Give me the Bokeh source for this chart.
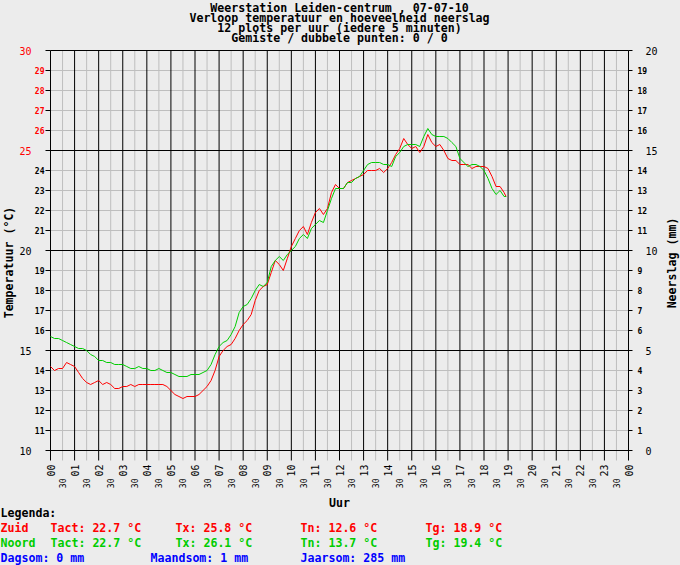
import math
from bokeh.plotting import figure
from bokeh.models import Range1d, ColumnDataSource, GlobalInlineStyleSheet
from bokeh.core.properties import value
from bokeh.embed import file_html
from bokeh.resources import INLINE

# ---------------- data ----------------
title_lines = [
    "Weerstation Leiden-centrum , 07-07-10",
    "Verloop temperatuur en hoeveelheid neerslag",
    "12 plots per uur (iedere 5 minuten)",
    "Gemiste / dubbele punten: 0 / 0",
]

# sample times (hours), every 10 minutes from 00:00, last sample 18:55
times_h = [k * 10 / 60 for k in range(114)] + [18 + 55 / 60]

zuid = [
    14.2, 14.0, 14.1, 14.1, 14.4, 14.3, 14.2, 13.9, 13.6, 13.4,
    13.3, 13.4, 13.5, 13.3, 13.4, 13.3, 13.1, 13.1, 13.2, 13.2,
    13.3, 13.2, 13.3, 13.3, 13.3, 13.3, 13.3, 13.3, 13.3, 13.2,
    13.0, 12.8, 12.7, 12.6, 12.7, 12.7, 12.7, 12.8, 13.0, 13.2,
    13.5, 14.0, 14.7, 15.0, 15.2, 15.3, 15.6, 16.0, 16.3, 16.5,
    16.8, 17.5, 18.0, 18.2, 18.3, 18.9, 19.5, 19.3, 19.0, 19.6,
    20.2, 20.6, 21.0, 21.2, 20.8, 21.4, 21.9, 22.1, 21.8, 22.1,
    22.9, 23.3, 23.1, 23.1, 23.4, 23.5, 23.6, 23.7, 23.8, 24.0,
    24.0, 24.0, 24.1, 23.9, 24.1, 24.4, 24.8, 25.1, 25.6, 25.3,
    25.1, 25.2, 24.9, 25.2, 25.8, 25.4, 25.2, 25.3, 25.0, 24.6,
    24.5, 24.5, 24.3, 24.3, 24.3, 24.1, 24.2, 24.2, 24.2, 24.1,
    23.7, 23.2, 23.2, 22.9, 22.7,
]

noord = [
    15.7, 15.6, 15.6, 15.5, 15.4, 15.3, 15.2, 15.1, 15.1, 15.0,
    14.8, 14.7, 14.5, 14.5, 14.4, 14.4, 14.3, 14.3, 14.3, 14.2,
    14.1, 14.1, 14.2, 14.1, 14.1, 14.0, 14.0, 14.1, 14.0, 13.9,
    13.9, 13.8, 13.7, 13.7, 13.7, 13.8, 13.8, 13.8, 13.9, 14.0,
    14.3, 14.8, 15.2, 15.4, 15.5, 15.8, 16.2, 16.9, 17.2, 17.3,
    17.6, 18.0, 18.3, 18.2, 18.4, 19.2, 19.5, 19.7, 19.5, 19.8,
    20.0, 20.2, 20.6, 20.8, 20.6, 21.1, 21.3, 21.5, 21.4, 22.0,
    22.6, 23.1, 23.1, 23.1, 23.4, 23.4, 23.6, 23.7, 24.0, 24.3,
    24.4, 24.4, 24.4, 24.3, 24.3, 24.2, 24.7, 24.9, 25.2, 25.3,
    25.3, 25.3, 25.2, 25.7, 26.1, 25.8, 25.7, 25.7, 25.7, 25.6,
    25.4, 25.2, 24.6, 24.4, 24.2, 24.3, 24.3, 24.2, 24.0, 23.6,
    23.1, 22.8, 23.0, 22.7, 22.7,
]

temp_ticks = list(range(10, 31))
temp_major = [10, 15, 20, 25, 30]
temp_red_from = 25
rain_ticks = list(range(0, 21))
rain_major = [0, 5, 10, 15, 20]
hour_ticks = list(range(0, 25))
hour_labels = ["%02d" % (h % 24) for h in hour_ticks]
half_ticks = [h + 0.5 for h in range(24)]
half_labels = ["30"] * 24

x_title = "Uur"
y_title_left = "Temperatuur (°C)"
y_title_right = "Neerslag (mm)"

legend_head = "Legenda:"
row_names = ["Zuid", "Noord"]
row_tact = ["Tact: 22.7 °C", "Tact: 22.7 °C"]
row_tx = ["Tx: 25.8 °C", "Tx: 26.1 °C"]
row_tn = ["Tn: 12.6 °C", "Tn: 13.7 °C"]
row_tg = ["Tg: 18.9 °C", "Tg: 19.4 °C"]
rain_texts = ["Dagsom: 0 mm", "Maandsom: 1 mm", "Jaarsom: 285 mm"]

# ---------------- layout / style ----------------
W, H = 680, 565
X0, Y0 = 50, 450            # pixel position of (00:00, 10 °C)
PPH = 578 / 24              # pixels per hour
PPD = 400 / 20              # pixels per degree
BG = "#ECECEC"
GRID = "#BEBEBE"
RED = "#FF0000"
GREEN = "#00CC00"
BLUE = "#0000FF"
FONT = value("DejaVu Sans Mono")
BIG = "11.6px"


def px_x(px):
    return (px - X0) / PPH


def px_y(py):
    return 10 + (Y0 - py) / PPD


css = GlobalInlineStyleSheet(css="html, body {margin:0 !important; padding:0 !important; background:#ECECEC; overflow:hidden;}")

p = figure(width=W, height=H,
           x_range=Range1d(px_x(0), px_x(W)), y_range=Range1d(px_y(H), px_y(0)),
           x_axis_location=None, y_axis_location=None,
           output_backend="svg", toolbar_location=None,
           min_border=0, min_border_left=0, min_border_right=0,
           min_border_top=0, min_border_bottom=0,
           background_fill_color=BG, border_fill_color=BG,
           outline_line_color=None, stylesheets=[css])
p.extra_y_ranges = {"rain": Range1d(px_y(H) - 10, px_y(0) - 10)}
p.grid.visible = False

y_low = px_y(Y0 + 10)       # ticks below the hour axis
x_left_tick = px_x(X0 - 5)
x_right_tick = 24 + 4 / PPH

# minor grid (grey)
p.segment(x0=half_ticks, y0=[y_low] * len(half_ticks), x1=half_ticks, y1=[30] * len(half_ticks),
          line_color=GRID, line_width=1)
p.segment(x0=[0] * len(temp_ticks), y0=temp_ticks, x1=[24] * len(temp_ticks), y1=temp_ticks,
          line_color=GRID, line_width=1)
# ticks outside left / right
p.segment(x0=[x_left_tick] * len(temp_ticks), y0=temp_ticks, x1=[0] * len(temp_ticks),
          y1=temp_ticks, line_color="black", line_width=1)
p.segment(x0=[24] * len(rain_ticks), y0=rain_ticks, x1=[x_right_tick] * len(rain_ticks),
          y1=rain_ticks, line_color="black", line_width=1, y_range_name="rain")
# major grid (black)
p.segment(x0=[0] * len(temp_major), y0=temp_major, x1=[24] * len(temp_major), y1=temp_major,
          line_color="black", line_width=1)
p.segment(x0=hour_ticks, y0=[y_low] * len(hour_ticks), x1=hour_ticks, y1=[30] * len(hour_ticks),
          line_color="black", line_width=1)

# data lines
p.line(times_h, zuid, line_color=RED, line_width=1)
p.line(times_h, noord, line_color=GREEN, line_width=1)


def texts(xs, ys, labels, colors, size, bold=False, align="left", baseline="middle",
          angle=0.0, y_range_name="default"):
    n = len(labels)
    if not isinstance(colors, list):
        colors = [colors] * n
    src = ColumnDataSource(dict(x=list(xs), y=list(ys), t=list(labels), c=colors))
    p.text(x="x", y="y", text="t", source=src, text_color="c", text_font=FONT,
           text_font_size=size, text_font_style="bold" if bold else "normal",
           text_align=align, text_baseline=baseline, angle=angle,
           y_range_name=y_range_name)


# titles
texts([12] * 4, [px_y(py) for py in (7, 17, 27, 37)], title_lines, "black", BIG,
      bold=True, align="center")

# left tick labels
tmin = [v for v in temp_ticks if v not in temp_major]
texts([px_x(31)] * len(temp_major), temp_major, [str(v) for v in temp_major],
      [RED if v >= temp_red_from else "black" for v in temp_major], "10px", align="right")
texts([px_x(44)] * len(tmin), tmin, [str(v) for v in tmin],
      [RED if v >= temp_red_from else "black" for v in tmin], "8px", bold=True, align="right")

# right tick labels
rmin = [v for v in rain_ticks if v not in rain_major]
texts([px_x(645)] * len(rain_major), rain_major, [str(v) for v in rain_major], "black",
      "10px", align="left", y_range_name="rain")
texts([px_x(637)] * len(rmin), rmin, [str(v) for v in rmin], "black", "8px", bold=True,
      align="left", y_range_name="rain")

# bottom tick labels (rotated, reading upward)
texts(hour_ticks, [px_y(464)] * len(hour_ticks), hour_labels, "black", "10px",
      align="right", angle=math.pi / 2)
texts(half_ticks, [px_y(478)] * len(half_ticks), half_labels, "black", "8px",
      align="right", angle=math.pi / 2)

# axis titles
texts([12], [px_y(502)], [x_title], "black", BIG, bold=True, align="center")
texts([px_x(8)], [px_y(262)], [y_title_left], "black", BIG, bold=True, align="center",
      angle=math.pi / 2)
texts([px_x(671.5)], [px_y(262.5)], [y_title_right], "black", BIG, bold=True,
      align="center", angle=math.pi / 2)

# legend
texts([px_x(0)], [px_y(512)], [legend_head], "black", BIG, bold=True)
col_x = [0, 50, 175, 300, 425]
for i, (col, py) in enumerate(zip([RED, GREEN], [527, 542])):
    row = [row_names[i], row_tact[i], row_tx[i], row_tn[i], row_tg[i]]
    texts([px_x(cx) for cx in col_x], [px_y(py)] * 5, row, col, BIG, bold=True)
texts([px_x(cx) for cx in (0, 150, 300)], [px_y(557)] * 3, rain_texts, BLUE, BIG, bold=True)

open("out.html", "w").write(file_html(p, INLINE))
